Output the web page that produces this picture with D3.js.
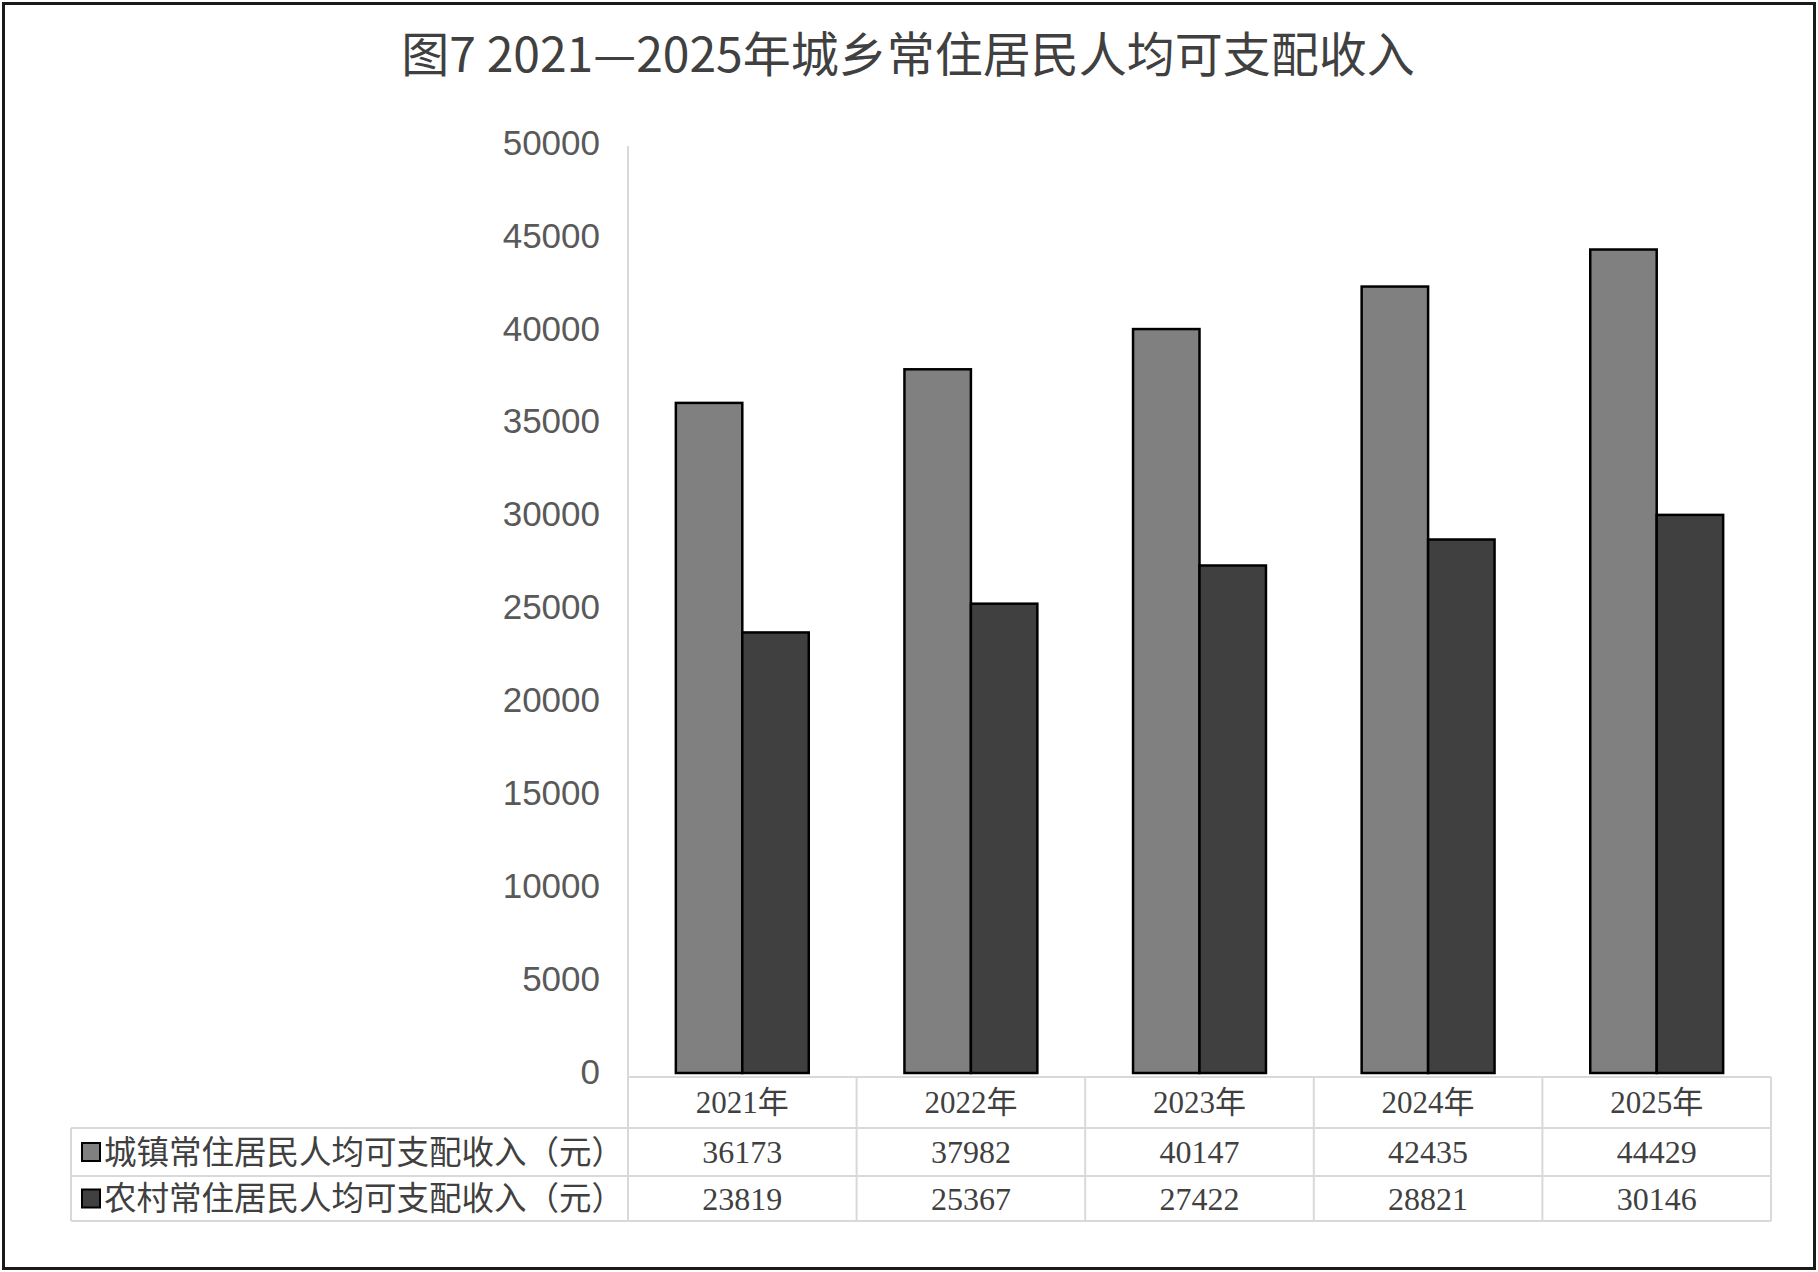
<!DOCTYPE html>
<html>
<head>
<meta charset="utf-8">
<script src="https://cdn.jsdelivr.net/npm/d3@7"></script>
<style>
  body { margin: 0; background: #fff; }
  svg { display: block; }
</style>
</head>
<body>
<div id="chart"></div>
<script>
// data
let years = ["2021年", "2022年", "2023年", "2024年", "2025年"];
let seriesNames = ["城镇常住居民人均可支配收入（元）", "农村常住居民人均可支配收入（元）"];
let urbanValues = [36173, 37982, 40147, 42435, 44429];
let ruralValues = [23819, 25367, 27422, 28821, 30146];
let yTicks = [0, 5000, 10000, 15000, 20000, 25000, 30000, 35000, 40000, 45000, 50000];
let titleText = "图7 2021—2025年城乡常住居民人均可支配收入";

let seriesColors = ["#808080", "#404040"];

let width = 1818, height = 1272;
let plot = {left: 628, right: 1771, top: 146, bottom: 1075};

let svg = d3.select("#chart").append("svg")
    .attr("width", width)
    .attr("height", height);

// outer frame
svg.append("rect")
    .attr("x", 3.5).attr("y", 3.5)
    .attr("width", width - 7).attr("height", height - 7)
    .attr("fill", "#fff")
    .attr("stroke", "#1a1a1a")
    .attr("stroke-width", 3);

// title
svg.append("text")
    .attr("x", 908)
    .attr("y", 72)
    .attr("text-anchor", "middle")
    .attr("font-family", "'Noto Sans CJK SC', sans-serif")
    .attr("font-size", "48px")
    .attr("fill", "#404040")
    .text(titleText);

let y = d3.scaleLinear()
    .domain([0, 50000])
    .range([plot.bottom, plot.top]);

let x = d3.scaleBand()
    .domain(years)
    .range([plot.left, plot.right]);

let x1 = d3.scaleBand()
    .domain([0, 1])
    .range([0, x.bandwidth()])
    .paddingOuter(0.72);

// y axis labels (Excel sets them a few px above the tick value)
let yAxis = d3.axisLeft(y)
    .tickValues(yTicks)
    .tickSize(0)
    .tickPadding(0)
    .tickFormat(d3.format("d"));

let gy = svg.append("g")
    .attr("transform", `translate(600,-3)`)
    .call(yAxis);
gy.select(".domain").remove();
gy.selectAll("text")
    .attr("font-family", "'Liberation Sans', Arial, sans-serif")
    .attr("font-size", "35px")
    .attr("fill", "#595959");

// vertical axis line
svg.append("line")
    .attr("x1", plot.left).attr("x2", plot.left)
    .attr("y1", y(50000)).attr("y2", 1221)
    .attr("stroke", "#d9d9d9")
    .attr("stroke-width", 2);

// bars
let allSeries = [urbanValues, ruralValues];
allSeries.forEach(function(values, s) {
    svg.selectAll(".bar-" + s)
        .data(values)
        .enter()
        .append("rect")
        .attr("class", "bar-" + s)
        .attr("x", (d, i) => x(years[i]) + x1(s))
        .attr("y", d => y(d))
        .attr("width", x1.bandwidth())
        .attr("height", d => y(0) - y(d) - 2)
        .attr("fill", seriesColors[s])
        .attr("stroke", "#000")
        .attr("stroke-width", 2.5);
});

// data table
let rows = [1077, 1128, 1176, 1221];
let tableLeft = 71;
let grid = svg.append("g")
    .attr("stroke", "#d9d9d9")
    .attr("stroke-width", 2);

// header row top line (only over data columns)
grid.append("line")
    .attr("x1", plot.left).attr("x2", plot.right)
    .attr("y1", rows[0]).attr("y2", rows[0]);
// remaining horizontal lines
rows.slice(1).forEach(function(r) {
    grid.append("line")
        .attr("x1", tableLeft).attr("x2", plot.right)
        .attr("y1", r).attr("y2", r);
});
// vertical lines
grid.append("line")
    .attr("x1", tableLeft).attr("x2", tableLeft)
    .attr("y1", rows[1]).attr("y2", rows[3]);
years.forEach(function(yr) {
    let xr = x(yr) + x.bandwidth();
    grid.append("line")
        .attr("x1", xr).attr("x2", xr)
        .attr("y1", rows[0]).attr("y2", rows[3]);
});

let cellFont = "'Liberation Serif', 'Noto Sans CJK SC', serif";

// header years
svg.selectAll(".year-label")
    .data(years)
    .enter()
    .append("text")
    .attr("class", "year-label")
    .attr("x", d => x(d) + x.bandwidth() / 2)
    .attr("y", (rows[0] + rows[1]) / 2)
    .attr("dy", "0.35em")
    .attr("text-anchor", "middle")
    .attr("font-family", cellFont)
    .attr("font-size", "31px")
    .attr("fill", "#404040")
    .text(d => d);

// values rows
allSeries.forEach(function(values, s) {
    let cy = (rows[s + 1] + rows[s + 2]) / 2;
    svg.selectAll(".val-" + s)
        .data(values)
        .enter()
        .append("text")
        .attr("class", "val-" + s)
        .attr("x", (d, i) => x(years[i]) + x.bandwidth() / 2)
        .attr("y", cy)
        .attr("dy", "0.35em")
        .attr("text-anchor", "middle")
        .attr("font-family", cellFont)
        .attr("font-size", "32px")
        .attr("fill", "#404040")
        .text(d => d);

    // legend key + series name
    svg.append("rect")
        .attr("x", 82)
        .attr("y", cy - 9)
        .attr("width", 18)
        .attr("height", 18)
        .attr("fill", seriesColors[s])
        .attr("stroke", "#000")
        .attr("stroke-width", 2);

    svg.append("text")
        .attr("x", 104)
        .attr("y", cy)
        .attr("dy", "0.36em")
        .attr("font-family", "'Noto Sans CJK SC', sans-serif")
        .attr("font-size", "32.5px")
        .attr("fill", "#404040")
        .text(seriesNames[s]);
});
</script>
</body>
</html>
